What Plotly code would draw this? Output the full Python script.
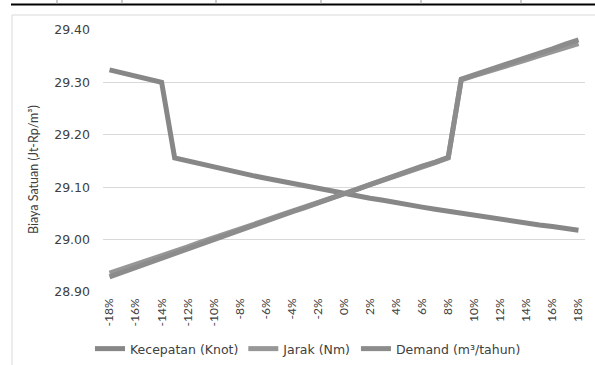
import plotly.graph_objects as go

# Sensitivity change (%)
changes = list(range(-18, 19))
tick_vals = list(range(-18, 19, 2))
tick_text = [f"{v}%" for v in tick_vals]
y_title = "Biaya Satuan (Jt-Rp/m³)"

kecepatan = [29.324, 29.318, 29.312, 29.306, 29.300,
             29.156, 29.150, 29.145, 29.139, 29.133, 29.128, 29.122, 29.117,
             29.112, 29.107, 29.102, 29.097, 29.093, 29.088, 29.083, 29.079,
             29.075, 29.070, 29.066, 29.062, 29.058, 29.054, 29.050, 29.046,
             29.043, 29.039, 29.035, 29.032, 29.028, 29.025, 29.022, 29.018]

jarak = [28.936, 28.944, 28.953, 28.961, 28.970, 28.978, 28.986, 28.995,
         29.003, 29.012, 29.020, 29.029, 29.037, 29.046, 29.054, 29.063,
         29.071, 29.080, 29.088, 29.096, 29.105, 29.113, 29.122, 29.130,
         29.139, 29.147, 29.156, 29.305, 29.313, 29.320, 29.328, 29.336,
         29.343, 29.351, 29.359, 29.366, 29.374]

demand = [28.929, 28.938, 28.947, 28.956, 28.965, 28.973, 28.982, 28.991,
          29.000, 29.009, 29.017, 29.026, 29.035, 29.044, 29.053, 29.061,
          29.070, 29.079, 29.088, 29.097, 29.105, 29.114, 29.122, 29.131,
          29.140, 29.148, 29.157, 29.306, 29.314, 29.323, 29.331, 29.339,
          29.348, 29.356, 29.364, 29.373, 29.381]

series = [("Kecepatan (Knot)", kecepatan, "#878787"),
          ("Jarak (Nm)", jarak, "#979797"),
          ("Demand (m³/tahun)", demand, "#8c8c8c")]

fig = go.Figure()
for name, vals, col in series:
    fig.add_trace(go.Scatter(x=changes, y=vals, mode="lines", name=name,
                             line=dict(color=col, width=5)))

W, H = 595, 365
L, R, T, B = 103, 10, 30, 73
pw, ph = W - L - R, H - T - B

def px(x):
    return (x - L) / pw

def py(y):
    return (H - B - y) / ph

shapes = [
    dict(type="line", xref="paper", yref="paper", x0=px(12), x1=px(600),
         y0=py(15), y1=py(15), line=dict(color="#d9d9d9", width=1)),
    dict(type="line", xref="paper", yref="paper", x0=px(12), x1=px(12),
         y0=py(15), y1=py(370), line=dict(color="#d9d9d9", width=1)),
    dict(type="line", xref="paper", yref="paper", x0=px(11), x1=px(600),
         y0=py(4.5), y1=py(4.5), line=dict(color="#000000", width=2)),
]
for tx in [57, 122, 216, 321, 421, 521]:
    shapes.append(dict(type="line", xref="paper", yref="paper",
                       x0=px(tx), x1=px(tx), y0=py(0), y1=py(4),
                       line=dict(color="#999999", width=1)))

fig.update_layout(
    width=W, height=H,
    margin=dict(l=L, r=R, t=T, b=B, autoexpand=False),
    paper_bgcolor="white", plot_bgcolor="white",
    font=dict(family="DejaVu Sans", size=12, color="#404040"),
    shapes=shapes,
    annotations=[dict(text=y_title, xref="paper", yref="paper",
                      x=px(33), y=py(170), xanchor="center", yanchor="middle",
                      textangle=-90, showarrow=False,
                      font=dict(family="Lato", size=12.5, color="#404040"))],
    showlegend=True,
    legend=dict(orientation="h", x=px(308), xanchor="center",
                y=py(349), yanchor="middle",
                font=dict(family="DejaVu Sans", size=12.5, color="#404040"),
                itemwidth=30, tracegroupgap=0, itemclick=False),
    xaxis=dict(range=[-18.5, 18.5], tickmode="array", tickvals=tick_vals,
               ticktext=tick_text, tickangle=-90, showgrid=False,
               zeroline=False, showline=False, ticks="", automargin=False,
               ticklabelstandoff=3,
               tickfont=dict(family="Lato", size=12, color="#404040")),
    yaxis=dict(range=[28.9, 29.4], tickvals=[28.9, 29.0, 29.1, 29.2, 29.3, 29.4],
               tickformat=".2f", showgrid=True, gridcolor="#d9d9d9", gridwidth=1,
               zeroline=False, showline=False, ticks="", ticklen=0, automargin=False,
               ticklabelstandoff=12,
               tickfont=dict(family="DejaVu Sans", size=12.5, color="#404040")),
)

fig.write_html("out.html",
               config={"displayModeBar": False},
               post_script="document.body.style.margin='0';document.body.style.padding='0';")
